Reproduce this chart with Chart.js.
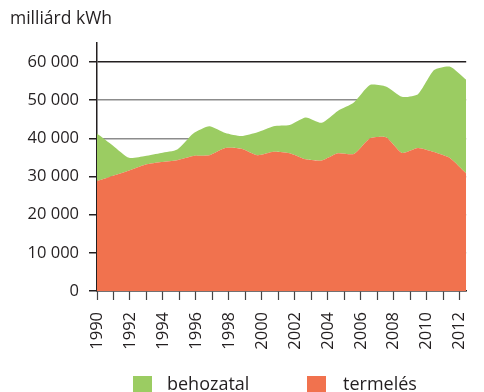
<!DOCTYPE html>
<html>
<head>
<meta charset="utf-8">
<script src="https://cdn.jsdelivr.net/npm/chart.js"></script>
<style>
  html, body { margin: 0; padding: 0; background: #fff; overflow: hidden; }
  .wrap { position: relative; width: 484px; height: 392px; overflow: hidden; }
  #chart { position: absolute; left: 0; top: 0; }
  .unit { position: absolute; left: 10px; top: 9px; font: 17.5px/17.5px "Open Sans"; color: #231f20; white-space: nowrap; }
  .legend { position: absolute; left: 0; top: 0; font: 18px/18px "Open Sans"; color: #231f20; }
  .legend .sw { position: absolute; top: 376px; width: 19px; height: 19px; }
  .legend .txt { position: absolute; top: 374px; white-space: nowrap; }
</style>
</head>
<body>
<div class="wrap">
  <canvas id="chart" width="492" height="392"></canvas>
  <div class="unit">milliárd kWh</div>
  <div class="legend">
    <span class="sw" style="left:133px;background:#9bcc62"></span><span class="txt" style="left:167px">behozatal</span>
    <span class="sw" style="left:307px;background:#f1724e"></span><span class="txt" style="left:343px">termelés</span>
  </div>
</div>
<script>
const years = [1990, 1991, 1992, 1993, 1994, 1995, 1996, 1997, 1998, 1999, 2000, 2001,
  2002, 2003, 2004, 2005, 2006, 2007, 2008, 2009, 2010, 2011, 2012, 2013];
const termeles = [28800, 30200, 31600, 33100, 33800, 34300, 35400, 35600, 37500, 37300, 35600, 36500,
  36100, 34500, 34200, 36100, 35900, 40000, 40300, 36200, 37500, 36400, 34800, 30800];
const behozatal = [12500, 7900, 3300, 2300, 2400, 2800, 5900, 7600, 3900, 3300, 6000, 6700,
  7400, 11000, 9900, 11100, 13500, 14000, 13300, 14700, 14100, 21500, 24000, 24600];
const yTicks = [0, 10000, 20000, 30000, 40000, 50000, 60000];

const ink = '#231f20';
const tickFont = { family: 'Open Sans', size: 16.5 };
const spaced = v => String(v).replace(/\B(?=(\d{3})+(?!\d))/g, ' ');

new Chart(document.getElementById('chart'), {
  type: 'line',
  data: {
    labels: years,
    datasets: [
      { label: 'termelés', data: termeles, backgroundColor: '#f1724e', fill: 'origin' },
      { label: 'behozatal', data: behozatal, backgroundColor: '#9bcc62', fill: '-1' }
    ]
  },
  options: {
    responsive: false,
    animation: false,
    layout: { padding: { top: 43, right: 6, left: 0, bottom: 0 } },
    elements: {
      point: { radius: 0 },
      line: { borderWidth: 0, tension: 0.2 }
    },
    plugins: { legend: { display: false }, tooltip: { enabled: false } },
    scales: {
      // data axis, one slot per year
      x: { type: 'category', display: false },
      // year ruler with a tick every year, labels every second year
      xt: {
        type: 'linear',
        position: 'bottom',
        min: 1990,
        max: 2012.39,
        afterFit: s => { s.height = 101; },
        border: { color: ink, width: 1.5 },
        grid: { drawOnChartArea: false, tickLength: 9, tickColor: '#444', tickWidth: 1.2 },
        ticks: {
          stepSize: 1,
          autoSkip: false,
          includeBounds: false,
          minRotation: 90,
          maxRotation: 90,
          padding: 12,
          color: ink,
          font: tickFont,
          callback: v => (v % 2 === 0 ? String(v) : '')
        }
      },
      y: {
        stacked: true,
        min: 0,
        max: 65000,
        afterFit: s => { s.width = 97; },
        afterBuildTicks: s => { s.ticks = yTicks.map(v => ({ value: v })); },
        border: { color: ink, width: 1.5 },
        grid: {
          color: c => (c.tick && c.tick.value === 60000 ? ink : '#8c8c8c'),
          lineWidth: 1.5,
          tickLength: 8,
          tickColor: ink
        },
        ticks: {
          padding: 10,
          color: ink,
          font: tickFont,
          callback: spaced
        }
      }
    }
  }
});
</script>
</body>
</html>
